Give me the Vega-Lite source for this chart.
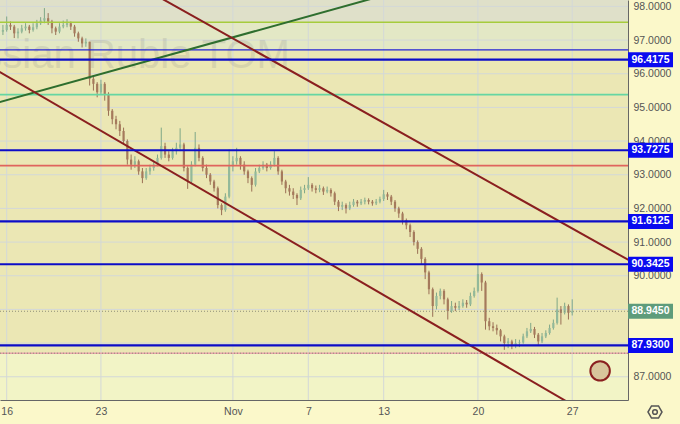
{
"$schema":"https://vega.github.io/schema/vega-lite/v6.json",
"width":628,"height":400,
"autosize":{"type":"none"},
"padding":{"left":0,"top":0,"right":52,"bottom":24},
"background":"#fbf8ca",
"config":{"view":{"stroke":null},"axis":{"labelFont":"Liberation Sans","labelFontSize":10.5,"labelColor":"#555555","domainColor":"#666666","grid":false,"ticks":false}},
"datasets":{
"candles":[
{"i":-1,"o":97.25,"h":97.45,"l":97.15,"c":97.30},
{"i":0,"o":97.30,"h":97.70,"l":97.25,"c":97.45},
{"i":1,"o":97.45,"h":97.55,"l":97.30,"c":97.40},
{"i":2,"o":97.40,"h":97.45,"l":97.06,"c":97.20},
{"i":3,"o":97.20,"h":97.35,"l":97.05,"c":97.25},
{"i":4,"o":97.25,"h":97.45,"l":97.20,"c":97.35},
{"i":5,"o":97.35,"h":97.50,"l":97.28,"c":97.40},
{"i":6,"o":97.40,"h":97.45,"l":97.20,"c":97.30},
{"i":7,"o":97.30,"h":97.50,"l":97.25,"c":97.38},
{"i":8,"o":97.38,"h":97.60,"l":97.32,"c":97.50},
{"i":9,"o":97.50,"h":97.68,"l":97.45,"c":97.58},
{"i":10,"o":97.58,"h":97.95,"l":97.50,"c":97.65},
{"i":11,"o":97.65,"h":97.80,"l":97.45,"c":97.55},
{"i":12,"o":97.55,"h":97.60,"l":97.20,"c":97.35},
{"i":13,"o":97.35,"h":97.40,"l":97.15,"c":97.25},
{"i":14,"o":97.25,"h":97.50,"l":97.20,"c":97.40},
{"i":15,"o":97.40,"h":97.58,"l":97.35,"c":97.45},
{"i":16,"o":97.45,"h":97.62,"l":97.38,"c":97.50},
{"i":17,"o":97.50,"h":97.55,"l":97.30,"c":97.40},
{"i":18,"o":97.40,"h":97.45,"l":97.10,"c":97.20},
{"i":19,"o":97.20,"h":97.25,"l":96.95,"c":97.05},
{"i":20,"o":97.05,"h":97.10,"l":96.78,"c":96.90},
{"i":21,"o":96.90,"h":97.05,"l":96.80,"c":96.95},
{"i":22,"o":96.95,"h":96.95,"l":95.65,"c":95.85},
{"i":23,"o":95.85,"h":95.95,"l":95.50,"c":95.70},
{"i":24,"o":95.70,"h":95.75,"l":95.30,"c":95.45},
{"i":25,"o":95.45,"h":95.82,"l":95.40,"c":95.70},
{"i":26,"o":95.70,"h":95.75,"l":95.20,"c":95.40},
{"i":27,"o":95.40,"h":95.45,"l":94.75,"c":94.90},
{"i":28,"o":94.90,"h":94.95,"l":94.50,"c":94.65},
{"i":29,"o":94.65,"h":94.75,"l":94.35,"c":94.50},
{"i":30,"o":94.50,"h":94.60,"l":94.15,"c":94.30},
{"i":31,"o":94.30,"h":94.40,"l":93.90,"c":94.00},
{"i":32,"o":94.00,"h":94.05,"l":93.30,"c":93.45},
{"i":33,"o":93.45,"h":93.60,"l":93.15,"c":93.30},
{"i":34,"o":93.30,"h":93.55,"l":93.20,"c":93.40},
{"i":35,"o":93.40,"h":93.45,"l":93.00,"c":93.10},
{"i":36,"o":93.10,"h":93.20,"l":92.75,"c":92.90},
{"i":37,"o":92.90,"h":93.20,"l":92.85,"c":93.10},
{"i":38,"o":93.10,"h":93.30,"l":93.00,"c":93.20},
{"i":39,"o":93.20,"h":93.40,"l":93.12,"c":93.30},
{"i":40,"o":93.30,"h":93.60,"l":93.25,"c":93.50},
{"i":41,"o":93.50,"h":94.40,"l":93.45,"c":93.85},
{"i":42,"o":93.85,"h":93.95,"l":93.50,"c":93.60},
{"i":43,"o":93.60,"h":93.70,"l":93.40,"c":93.50},
{"i":44,"o":93.50,"h":93.80,"l":93.45,"c":93.70},
{"i":45,"o":93.70,"h":93.95,"l":93.60,"c":93.80},
{"i":46,"o":93.80,"h":94.38,"l":93.70,"c":93.90},
{"i":47,"o":93.90,"h":93.95,"l":93.10,"c":93.20},
{"i":48,"o":93.20,"h":93.25,"l":92.58,"c":92.80},
{"i":49,"o":92.80,"h":93.40,"l":92.75,"c":93.30},
{"i":50,"o":93.30,"h":94.27,"l":93.25,"c":93.80},
{"i":51,"o":93.80,"h":93.90,"l":93.40,"c":93.50},
{"i":52,"o":93.50,"h":93.55,"l":93.10,"c":93.20},
{"i":53,"o":93.20,"h":93.30,"l":92.90,"c":93.00},
{"i":54,"o":93.00,"h":93.05,"l":92.70,"c":92.80},
{"i":55,"o":92.80,"h":92.85,"l":92.50,"c":92.60},
{"i":56,"o":92.60,"h":92.65,"l":92.00,"c":92.10},
{"i":57,"o":92.10,"h":92.15,"l":91.80,"c":91.95},
{"i":58,"o":91.95,"h":92.45,"l":91.90,"c":92.35},
{"i":59,"o":92.35,"h":93.75,"l":92.30,"c":93.25},
{"i":60,"o":93.25,"h":93.55,"l":93.10,"c":93.40},
{"i":61,"o":93.40,"h":93.80,"l":93.30,"c":93.50},
{"i":62,"o":93.50,"h":93.55,"l":93.15,"c":93.30},
{"i":63,"o":93.30,"h":93.40,"l":93.00,"c":93.10},
{"i":64,"o":93.10,"h":93.15,"l":92.75,"c":92.90},
{"i":65,"o":92.90,"h":92.95,"l":92.50,"c":92.70},
{"i":66,"o":92.70,"h":93.20,"l":92.65,"c":93.10},
{"i":67,"o":93.10,"h":93.30,"l":93.05,"c":93.20},
{"i":68,"o":93.20,"h":93.40,"l":93.15,"c":93.30},
{"i":69,"o":93.30,"h":93.35,"l":93.10,"c":93.20},
{"i":70,"o":93.20,"h":93.40,"l":93.15,"c":93.30},
{"i":71,"o":93.30,"h":93.70,"l":93.25,"c":93.50},
{"i":72,"o":93.50,"h":93.55,"l":93.00,"c":93.10},
{"i":73,"o":93.10,"h":93.15,"l":92.70,"c":92.80},
{"i":74,"o":92.80,"h":92.85,"l":92.45,"c":92.60},
{"i":75,"o":92.60,"h":92.70,"l":92.38,"c":92.50},
{"i":76,"o":92.50,"h":92.60,"l":92.28,"c":92.40},
{"i":77,"o":92.40,"h":92.45,"l":92.10,"c":92.30},
{"i":78,"o":92.30,"h":92.65,"l":92.25,"c":92.55},
{"i":79,"o":92.55,"h":92.70,"l":92.45,"c":92.60},
{"i":80,"o":92.60,"h":92.93,"l":92.55,"c":92.70},
{"i":81,"o":92.70,"h":92.75,"l":92.50,"c":92.60},
{"i":82,"o":92.60,"h":92.68,"l":92.45,"c":92.55},
{"i":83,"o":92.55,"h":92.70,"l":92.48,"c":92.60},
{"i":84,"o":92.60,"h":92.65,"l":92.40,"c":92.50},
{"i":85,"o":92.50,"h":92.65,"l":92.45,"c":92.55},
{"i":86,"o":92.55,"h":92.60,"l":92.35,"c":92.45},
{"i":87,"o":92.45,"h":92.50,"l":92.10,"c":92.20},
{"i":88,"o":92.20,"h":92.25,"l":91.92,"c":92.05},
{"i":89,"o":92.05,"h":92.20,"l":91.95,"c":92.10},
{"i":90,"o":92.10,"h":92.15,"l":91.85,"c":92.00},
{"i":91,"o":92.00,"h":92.20,"l":91.95,"c":92.10},
{"i":92,"o":92.10,"h":92.28,"l":92.05,"c":92.20},
{"i":93,"o":92.20,"h":92.25,"l":92.05,"c":92.15},
{"i":94,"o":92.15,"h":92.28,"l":92.10,"c":92.20},
{"i":95,"o":92.20,"h":92.32,"l":92.12,"c":92.25},
{"i":96,"o":92.25,"h":92.30,"l":92.12,"c":92.20},
{"i":97,"o":92.20,"h":92.25,"l":92.08,"c":92.15},
{"i":98,"o":92.15,"h":92.28,"l":92.10,"c":92.20},
{"i":99,"o":92.20,"h":92.35,"l":92.15,"c":92.28},
{"i":100,"o":92.28,"h":92.55,"l":92.22,"c":92.42},
{"i":101,"o":92.42,"h":92.48,"l":92.25,"c":92.35},
{"i":102,"o":92.35,"h":92.40,"l":92.10,"c":92.20},
{"i":103,"o":92.20,"h":92.25,"l":91.90,"c":92.00},
{"i":104,"o":92.00,"h":92.05,"l":91.72,"c":91.85},
{"i":105,"o":91.85,"h":91.90,"l":91.52,"c":91.65},
{"i":106,"o":91.65,"h":91.70,"l":91.38,"c":91.50},
{"i":107,"o":91.50,"h":91.55,"l":91.15,"c":91.30},
{"i":108,"o":91.30,"h":91.35,"l":90.90,"c":91.00},
{"i":109,"o":91.00,"h":91.05,"l":90.65,"c":90.80},
{"i":110,"o":90.80,"h":90.85,"l":90.35,"c":90.50},
{"i":111,"o":90.50,"h":90.55,"l":89.90,"c":90.10},
{"i":112,"o":90.10,"h":90.15,"l":89.45,"c":89.60},
{"i":113,"o":89.60,"h":89.65,"l":88.78,"c":89.10},
{"i":114,"o":89.10,"h":89.50,"l":89.00,"c":89.40},
{"i":115,"o":89.40,"h":89.62,"l":89.30,"c":89.55},
{"i":116,"o":89.55,"h":89.60,"l":89.15,"c":89.30},
{"i":117,"o":89.30,"h":89.35,"l":88.70,"c":88.95},
{"i":118,"o":88.95,"h":89.25,"l":88.90,"c":89.10},
{"i":119,"o":89.10,"h":89.20,"l":88.95,"c":89.05},
{"i":120,"o":89.05,"h":89.25,"l":88.98,"c":89.10},
{"i":121,"o":89.10,"h":89.30,"l":89.05,"c":89.20},
{"i":122,"o":89.20,"h":89.28,"l":89.05,"c":89.15},
{"i":123,"o":89.15,"h":89.50,"l":89.10,"c":89.40},
{"i":124,"o":89.40,"h":89.65,"l":89.35,"c":89.55},
{"i":125,"o":89.55,"h":90.32,"l":89.50,"c":90.05},
{"i":126,"o":90.05,"h":90.10,"l":89.55,"c":89.80},
{"i":127,"o":89.80,"h":89.85,"l":88.40,"c":88.65},
{"i":128,"o":88.65,"h":88.75,"l":88.38,"c":88.50},
{"i":129,"o":88.50,"h":88.62,"l":88.35,"c":88.45},
{"i":130,"o":88.45,"h":88.55,"l":88.25,"c":88.38},
{"i":131,"o":88.38,"h":88.42,"l":88.05,"c":88.20},
{"i":132,"o":88.20,"h":88.25,"l":87.80,"c":88.00},
{"i":133,"o":88.00,"h":88.15,"l":87.85,"c":88.05},
{"i":134,"o":88.05,"h":88.10,"l":87.82,"c":87.95},
{"i":135,"o":87.95,"h":88.12,"l":87.85,"c":88.00},
{"i":136,"o":88.00,"h":88.10,"l":87.88,"c":88.02},
{"i":137,"o":88.02,"h":88.28,"l":87.98,"c":88.20},
{"i":138,"o":88.20,"h":88.45,"l":88.15,"c":88.35},
{"i":139,"o":88.35,"h":88.60,"l":88.30,"c":88.42},
{"i":140,"o":88.42,"h":88.48,"l":88.15,"c":88.25},
{"i":141,"o":88.25,"h":88.30,"l":87.95,"c":88.05},
{"i":142,"o":88.05,"h":88.30,"l":88.00,"c":88.20},
{"i":143,"o":88.20,"h":88.38,"l":88.15,"c":88.30},
{"i":144,"o":88.30,"h":88.55,"l":88.25,"c":88.45},
{"i":145,"o":88.45,"h":88.70,"l":88.40,"c":88.60},
{"i":146,"o":88.60,"h":89.35,"l":88.55,"c":89.00},
{"i":147,"o":89.00,"h":89.10,"l":88.55,"c":88.90},
{"i":148,"o":88.90,"h":89.20,"l":88.85,"c":89.10},
{"i":149,"o":89.10,"h":89.15,"l":88.70,"c":88.90},
{"i":150,"o":88.90,"h":89.30,"l":88.82,"c":88.945}
],
"bands":[{"band":"top","lo":97.53,"hi":99.0},{"band":"green","lo":96.71,"hi":97.53},{"band":"main","lo":87.70,"hi":96.71},{"band":"low","lo":85.0,"hi":87.70}],
"gridy":[{"p":87},{"p":88},{"p":89},{"p":90},{"p":91},{"p":92},{"p":93},{"p":94},{"p":95},{"p":96},{"p":97},{"p":98}],
"gridx":[{"i":0},{"i":25},{"i":60},{"i":80},{"i":100},{"i":125},{"i":150}],
"thin":[{"p":97.53,"k":"lime"},{"p":96.71,"k":"bluethin"},{"p":95.38,"k":"mint"},{"p":93.27,"k":"red"},{"p":87.70,"k":"pink"}],
"blue":[{"p":96.4175},{"p":93.7275},{"p":91.6125},{"p":90.3425},{"p":87.93}],
"dotted":[{"p":88.945},{"p":87.70}],
"diag":[{"k":"green","x1":-5,"y1":95.06,"x2":120,"y2":98.95},{"k":"brown","x1":30,"y1":98.93,"x2":170,"y2":90.15},{"k":"brown","x1":-5,"y1":96.26,"x2":160,"y2":85.52}],
"boxes":[{"p":96.4175,"k":"level"},{"p":93.7275,"k":"level"},{"p":91.6125,"k":"level"},{"p":90.3425,"k":"level"},{"p":88.945,"k":"last"},{"p":87.93,"k":"level"}],
"marker":[{"i":157.4,"p":87.175}],
"wm":[{"i":75.1,"p":96.17,"t":"Russian Ruble TOM"}]
},
"encoding":{
"x":{"field":"i","type":"quantitative","scale":{"domain":[-1.777,164.8],"nice":false,"zero":false,"padding":0},
"axis":{"orient":"bottom","values":[0,25,60,80,100,125,150],"labelExpr":"datum.value==0?'16':datum.value==25?'23':datum.value==60?'Nov':datum.value==80?'7':datum.value==100?'13':datum.value==125?'20':'27'","labelPadding":6,"title":null,"zindex":0}},
"y":{"field":"p","type":"quantitative","scale":{"domain":[86.31,98.19],"nice":false,"zero":false,"padding":0},
"axis":{"orient":"right","values":[87,90,91,92,93,94,95,96,97,98],"format":".4f","labelPadding":5,"title":null,"zindex":0}}
},
"layer":[
{"data":{"name":"bands"},"mark":{"type":"rect","clip":true},
 "encoding":{"x":null,"y":{"field":"hi","type":"quantitative"},"y2":{"field":"lo"},
  "color":{"field":"band","type":"nominal","scale":{"domain":["top","green","main","low"],"range":["#dfe0c9","#e3e8c5","#ebe7b4","#f2f4c6"]},"legend":null}}},
{"data":{"name":"gridy"},"mark":{"type":"rule","color":"#d3d8d8","strokeWidth":1},"encoding":{"x":null}},
{"data":{"name":"gridx"},"mark":{"type":"rule","color":"#d3d8d8","strokeWidth":1},"encoding":{"y":null}},
{"data":{"name":"wm"},"mark":{"type":"text","align":"right","baseline":"alphabetic","font":"Liberation Sans","fontSize":40,"fill":"#8a8a8a","opacity":0.2,"clip":true},
 "encoding":{"text":{"field":"t"}}},
{"data":{"name":"candles"},"mark":{"type":"rule","strokeWidth":1},
 "encoding":{"y":{"field":"l","type":"quantitative"},"y2":{"field":"h"},
  "color":{"condition":{"test":"datum.c >= datum.o","value":"#7fa787"},"value":"#9a6f55"}}},
{"data":{"name":"candles"},"mark":{"type":"bar","size":2.2},
 "encoding":{"y":{"field":"o","type":"quantitative"},"y2":{"field":"c"},
  "color":{"condition":{"test":"datum.c >= datum.o","value":"#93b99a"},"value":"#a57a5c"}}},
{"data":{"name":"thin"},"mark":{"type":"rule"},
 "encoding":{"x":null,
  "color":{"condition":[{"test":"datum.k==='lime'","value":"#a6cc3c"},{"test":"datum.k==='bluethin'","value":"#2323d6"},{"test":"datum.k==='mint'","value":"#66d6a2"},{"test":"datum.k==='red'","value":"#e0645c"}],"value":"#e8a3ab"},
  "strokeWidth":{"condition":{"test":"datum.k==='bluethin'","value":1.2},"value":1.6}}},
{"data":{"name":"dotted"},"mark":{"type":"rule","color":"#8f8f78","strokeWidth":1,"strokeDash":[1,2]},"encoding":{"x":null}},
{"data":{"name":"diag"},"mark":{"type":"rule","strokeWidth":2,"clip":true},
 "encoding":{"x":{"field":"x1","type":"quantitative"},"y":{"field":"y1","type":"quantitative"},"x2":{"field":"x2"},"y2":{"field":"y2"},
  "color":{"condition":{"test":"datum.k==='green'","value":"#2e6e2e"},"value":"#8a1f1f"}}},
{"data":{"name":"blue"},"mark":{"type":"rule","color":"#0c0cc8","strokeWidth":2.2},"encoding":{"x":null}},
{"data":{"name":"marker"},"mark":{"type":"point","shape":"circle","filled":true,"fill":"#d8c59c","stroke":"#8a1f1f","strokeWidth":2,"size":380,"opacity":1}},
{"data":{"name":"boxes"},"mark":{"type":"point","shape":"M-1,-0.3333L1,-0.3333L1,0.3333L-1,0.3333Z","filled":true,"size":2025,"opacity":1,"x":{"expr":"width+22.5"}},
 "encoding":{"x":null,"color":{"condition":{"test":"datum.k==='last'","value":"#5e9c7b"},"value":"#0a0aef"}}},
{"data":{"name":"boxes"},"mark":{"type":"text","align":"center","baseline":"middle","font":"Liberation Sans","fontSize":10.5,"fontWeight":"bold","fill":"#ffffff","x":{"expr":"width+22.5"}},
 "encoding":{"x":null,"text":{"field":"p","type":"quantitative","format":".4f"}}},
{"data":{"values":[{"a":1}]},"mark":{"type":"rule","color":"#666666","strokeWidth":1,"x":{"expr":"width"},"y":{"expr":"height"},"y2":{"expr":"height+24"}},"encoding":{"x":null,"y":null}},
{"data":{"values":[{"a":1}]},"mark":{"type":"point","shape":"M-1,0L-0.5,-0.866L0.5,-0.866L1,0L0.5,0.866L-0.5,0.866Z","filled":false,"stroke":"#555555","strokeWidth":1.5,"size":196,"opacity":1,"x":{"expr":"width+27"},"y":{"expr":"height+12"}},"encoding":{"x":null,"y":null}},
{"data":{"values":[{"a":1}]},"mark":{"type":"point","shape":"circle","filled":false,"stroke":"#555555","strokeWidth":1.5,"size":22,"opacity":1,"x":{"expr":"width+27"},"y":{"expr":"height+12"}},"encoding":{"x":null,"y":null}}
]
}
